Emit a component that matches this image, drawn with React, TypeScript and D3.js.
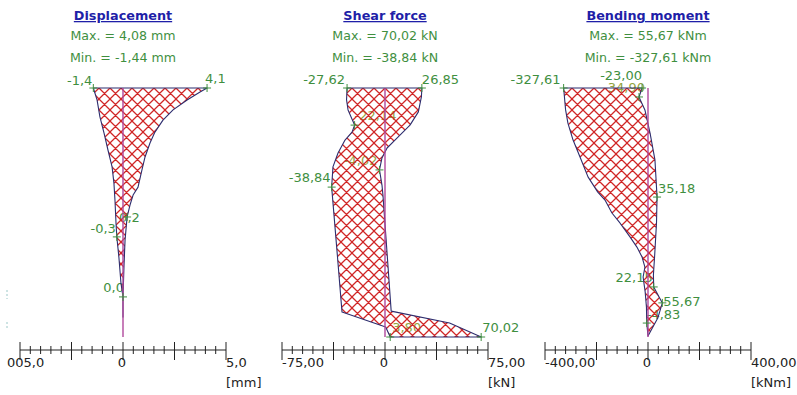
import React from 'react';
import * as d3 from 'd3';

// Pile length, depth measured from the head [m]
const DEPTH_MAX = 10;

// Displacement envelope [mm]
const dispMaxDepth = [0, 0.16, 0.48, 0.88, 1.29, 1.77, 2.21, 2.77, 3.29, 3.98, 4.3, 4.7, 5.18, 6.1, 7.11, 8.39, 9.2];
const dispMaxValue = [4.08, 3.74, 3.11, 2.43, 1.94, 1.55, 1.31, 1.07, 0.92, 0.73, 0.49, 0.34, 0.2, 0.1, 0.05, 0.0, 0.0];
const dispMinDepth = [0, 0.48, 1.16, 1.81, 2.49, 3.17, 3.82, 4.5, 5.42, 5.98, 6.79, 7.83, 8.39, 9.2];
const dispMinValue = [-1.44, -1.26, -1.12, -0.92, -0.73, -0.53, -0.44, -0.39, -0.34, -0.3, -0.2, -0.1, 0.0, 0.0];

// Shear force envelope [kN]
const shearMaxDepth = [0, 0.36, 0.96, 1.49, 2.01, 2.41, 2.81, 3.29, 3.9, 4.3, 8.96, 9.44, 10];
const shearMaxValue = [26.85, 26.5, 24.3, 18.2, 8.7, 1.5, -2.2, -4.02, -2.2, -1.5, 4.5, 47.0, 70.02];
const shearMinDepth = [0, 0.48, 0.88, 1.49, 1.77, 2.09, 2.61, 3.17, 3.98, 6.51, 9.0, 9.6, 10];
const shearMinValue = [-27.62, -28.0, -26.9, -22.14, -24.0, -29.1, -34.2, -37.9, -38.84, -35.0, -31.3, 0.5, 3.8];

// Bending moment envelope [kNm]
const momentMaxDepth = [0, 0.36, 0.88, 1.81, 2.89, 4.38, 5.42, 6.71, 7.51, 7.99, 8.63, 9.24, 9.96];
const momentMaxValue = [-23.0, -34.9, -12, 8, 27, 35.18, 33, 26, 21, 22.15, 55.67, 38, 0];
const momentMinDepth = [0, 0.88, 1.41, 2.09, 2.77, 3.57, 4.18, 4.5, 5.02, 5.42, 5.98, 6.39, 6.79, 7.19, 7.59, 8.19, 8.8, 9.44, 9.96];
const momentMinValue = [-327.61, -320, -311, -291, -264, -233, -195, -167, -140, -109, -70, -43, -23, -12, -19, -11, -6, -4.83, 0];

// Value labels: depth, value, text
const dispLabelDepth = [0, 0, 5.98, 5.18, 8.39];
const dispLabelValue = [-1.44, 4.08, -0.3, 0.2, 0.0];
const dispLabelText = ['-1,4', '4,1', '-0,3', '0,2', '0,0'];

const shearLabelDepth = [0, 0, 1.49, 3.29, 3.98, 10, 10];
const shearLabelValue = [-27.62, 26.85, -22.14, -4.02, -38.84, 3.8, 70.02];
const shearLabelText = ['-27,62', '26,85', '-22,14', '-4,02', '-38,84', '3,80', '70,02'];

const momentLabelDepth = [0, 0, 0.36, 4.38, 7.99, 8.63, 9.44];
const momentLabelValue = [-327.61, -23.0, -34.9, 35.18, 22.15, 55.67, -4.83];
const momentLabelText = ['-327,61', '-23,00', '-34,90', '35,18', '22,15', '55,67', '-4,83'];

// Headings
const panelTitles = ['Displacement', 'Shear force', 'Bending moment'];
const panelMaxTexts = ['Max. = 4,08 mm', 'Max. = 70,02 kN', 'Max. = 55,67 kNm'];
const panelMinTexts = ['Min. = -1,44 mm', 'Min. = -38,84 kN', 'Min. = -327,61 kNm'];

// Axes
const axisExtents = [5, 75, 400];
const dispAxisLabels = ['005,0', '0', '5,0'];
const shearAxisLabels = ['-75,00', '0', '75,00'];
const momentAxisLabels = ['-400,00', '0', '400,00'];
const axisUnits = ['[mm]', '[kN]', '[kNm]'];

type Place = { anchor: 'start' | 'end' | 'middle'; dx: number; dy: number; inside?: boolean };

const dispPlacement: Place[] = [
  { anchor: 'end', dx: -1, dy: -3 },
  { anchor: 'start', dx: -2, dy: -5 },
  { anchor: 'end', dx: -1, dy: -4 },
  { anchor: 'start', dx: -8, dy: 5 },
  { anchor: 'end', dx: 1, dy: -5 },
];
const shearPlacement: Place[] = [
  { anchor: 'end', dx: -2, dy: -4 },
  { anchor: 'start', dx: 0, dy: -4 },
  { anchor: 'start', dx: 0, dy: -5, inside: true },
  { anchor: 'end', dx: -2, dy: -5, inside: true },
  { anchor: 'end', dx: -1, dy: -5 },
  { anchor: 'start', dx: 2, dy: -5, inside: true },
  { anchor: 'start', dx: 1, dy: -5 },
];
const momentPlacement: Place[] = [
  { anchor: 'end', dx: -3, dy: -4 },
  { anchor: 'end', dx: 0, dy: -8 },
  { anchor: 'end', dx: 6, dy: -5, inside: true },
  { anchor: 'start', dx: 1, dy: -4 },
  { anchor: 'end', dx: -1, dy: -5 },
  { anchor: 'start', dx: 1, dy: 3 },
  { anchor: 'start', dx: 0, dy: -4 },
];

const Y_TOP = 88;
const Y_BOTTOM = 337;
const AXIS_Y = 350;
const HALF_WIDTH = 103;
const CENTERS = [123, 385, 648];

const GREEN = '#3f8f3f';
const GREEN_INSIDE = '#93a43e';
const OUTLINE = '#2d2d6e';
const MEMBER = '#b0489c';
const FONT = "'DejaVu Sans', Verdana, sans-serif";

type PanelData = {
  title: string;
  maxText: string;
  minText: string;
  extent: number;
  center: number;
  maxDepth: number[];
  maxValue: number[];
  minDepth: number[];
  minValue: number[];
  labelDepth: number[];
  labelValue: number[];
  labelText: string[];
  placement: Place[];
  axisLabels: string[];
  unit: string;
  minLabelDx: number;
};

const yScale = d3.scaleLinear().domain([0, DEPTH_MAX]).range([Y_TOP, Y_BOTTOM]);

function Panel({ p }: { p: PanelData }) {
  const x = d3.scaleLinear().domain([-p.extent, p.extent]).range([p.center - HALF_WIDTH, p.center + HALF_WIDTH]);

  // envelope polygon: max curve downwards, min curve back up
  const upper = p.maxDepth.map((d, i) => [x(p.maxValue[i]), yScale(d)] as [number, number]);
  const lower = p.minDepth.map((d, i) => [x(p.minValue[i]), yScale(d)] as [number, number]).reverse();
  const outline = d3.line()([...upper, ...lower]) + 'Z';

  const ticks = d3.range(-10, 11).map((k) => (k * p.extent) / 10);

  const labels = p.labelText.map((t, i) => ({
    t,
    px: x(p.labelValue[i]),
    py: yScale(p.labelDepth[i]),
    pl: p.placement[i],
  }));

  return (
    <g>
      <text
        x={p.center}
        y={20}
        textAnchor="middle"
        fontWeight="bold"
        fontSize={12.8}
        fill="#1f1fa8"
        style={{ textDecoration: 'underline' }}
      >
        {p.title}
      </text>
      <text x={p.center} y={40} textAnchor="middle" fontSize={12.6} fill={GREEN}>
        {p.maxText}
      </text>
      <text x={p.center} y={62} textAnchor="middle" fontSize={12.6} fill={GREEN}>
        {p.minText}
      </text>

      {labels.map((l, i) => (
        <text
          key={'l' + i}
          x={l.px + l.pl.dx}
          y={l.py + l.pl.dy}
          textAnchor={l.pl.anchor}
          fontSize={13}
          fill={l.pl.inside ? GREEN_INSIDE : GREEN}
        >
          {l.t}
        </text>
      ))}

      <path d={outline} fill="url(#hatch)" stroke="none" />
      <path d={outline} fill="none" stroke={OUTLINE} strokeWidth={1.1} strokeLinejoin="round" />

      <line x1={x(0)} x2={x(0)} y1={yScale(0)} y2={yScale(DEPTH_MAX)} stroke={MEMBER} strokeWidth={1.4} />

      {labels.map((l, i) => (
        <path
          key={'m' + i}
          d={`M${l.px - 4},${l.py}H${l.px + 4}M${l.px},${l.py - 4}V${l.py + 4}`}
          stroke={GREEN}
          strokeWidth={1}
        />
      ))}

      <line x1={x(-p.extent)} x2={x(p.extent)} y1={AXIS_Y} y2={AXIS_Y} stroke="#222" strokeWidth={1} />
      {ticks.map((t, i) => {
        const major = i % 5 === 0;
        return (
          <line
            key={'t' + i}
            x1={x(t)}
            x2={x(t)}
            y1={AXIS_Y - (major ? 8 : 4)}
            y2={AXIS_Y + (major ? 10 : 4)}
            stroke="#222"
            strokeWidth={1}
          />
        );
      })}
      <text x={x(-p.extent) + p.minLabelDx} y={367} fontSize={13} fill="#222">
        {p.axisLabels[0]}
      </text>
      <text x={x(0) - 1} y={367} textAnchor="middle" fontSize={13} fill="#222">
        {p.axisLabels[1]}
      </text>
      <text x={x(p.extent)} y={367} fontSize={13} fill="#222">
        {p.axisLabels[2]}
      </text>
      <text x={x(p.extent)} y={387} fontSize={13} fill="#222">
        {p.unit}
      </text>
    </g>
  );
}

export default function App() {
  const panels: PanelData[] = [
    {
      title: panelTitles[0],
      maxText: panelMaxTexts[0],
      minText: panelMinTexts[0],
      extent: axisExtents[0],
      center: CENTERS[0],
      maxDepth: dispMaxDepth,
      maxValue: dispMaxValue,
      minDepth: dispMinDepth,
      minValue: dispMinValue,
      labelDepth: dispLabelDepth,
      labelValue: dispLabelValue,
      labelText: dispLabelText,
      placement: dispPlacement,
      axisLabels: dispAxisLabels,
      unit: axisUnits[0],
      minLabelDx: -13,
    },
    {
      title: panelTitles[1],
      maxText: panelMaxTexts[1],
      minText: panelMinTexts[1],
      extent: axisExtents[1],
      center: CENTERS[1],
      maxDepth: shearMaxDepth,
      maxValue: shearMaxValue,
      minDepth: shearMinDepth,
      minValue: shearMinValue,
      labelDepth: shearLabelDepth,
      labelValue: shearLabelValue,
      labelText: shearLabelText,
      placement: shearPlacement,
      axisLabels: shearAxisLabels,
      unit: axisUnits[1],
      minLabelDx: 0,
    },
    {
      title: panelTitles[2],
      maxText: panelMaxTexts[2],
      minText: panelMinTexts[2],
      extent: axisExtents[2],
      center: CENTERS[2],
      maxDepth: momentMaxDepth,
      maxValue: momentMaxValue,
      minDepth: momentMinDepth,
      minValue: momentMinValue,
      labelDepth: momentLabelDepth,
      labelValue: momentLabelValue,
      labelText: momentLabelText,
      placement: momentPlacement,
      axisLabels: momentAxisLabels,
      unit: axisUnits[2],
      minLabelDx: 0,
    },
  ];

  return (
    <svg
      width={797}
      height={395}
      style={{ position: 'absolute', left: 0, top: 0, background: '#fff', display: 'block' }}
      fontFamily={FONT}
    >
      <defs>
        <pattern id="hatch" patternUnits="userSpaceOnUse" width={11} height={11}>
          <path
            d="M0,0L11,11M11,0L0,11M-2,9L2,13M9,-2L13,2M-2,2L2,-2M9,13L13,9"
            stroke="#d02626"
            strokeWidth={1.25}
            fill="none"
          />
        </pattern>
      </defs>
      {panels.map((p) => (
        <Panel key={p.title} p={p} />
      ))}
      <line x1={7} x2={7} y1={290} y2={299} stroke="#9cc8c8" strokeWidth={1} strokeDasharray="2,2" />
      <line x1={7} x2={7} y1={322} y2={330} stroke="#9cc8c8" strokeWidth={1} strokeDasharray="2,2" />
    </svg>
  );
}
